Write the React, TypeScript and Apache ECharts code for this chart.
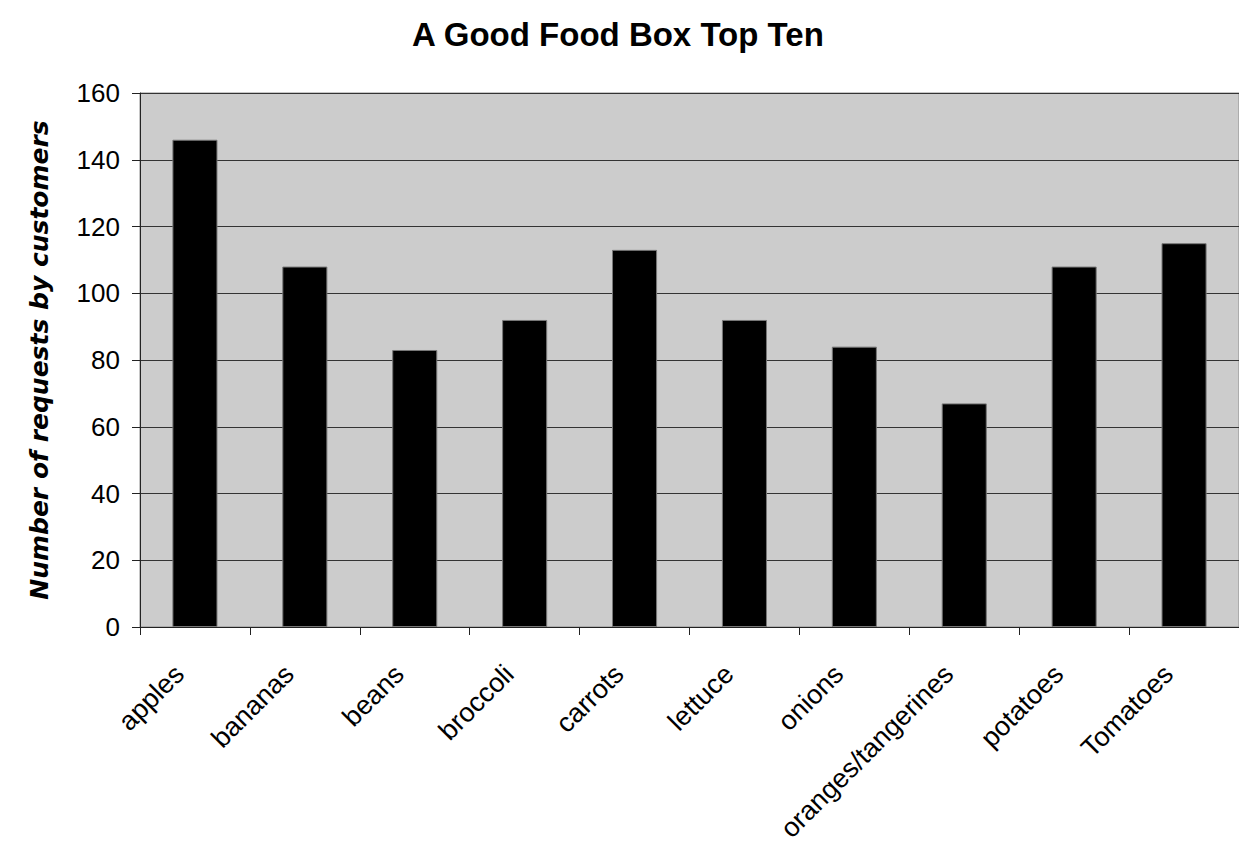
import React, { useEffect, useRef } from "react";
import * as echarts from "echarts";

const titleText = "A Good Food Box Top Ten";
const yAxisName = "Number of requests by customers";
const categories = [
  "apples",
  "bananas",
  "beans",
  "broccoli",
  "carrots",
  "lettuce",
  "onions",
  "oranges/tangerines",
  "potatoes",
  "Tomatoes",
];
const requests = [146, 108, 83, 92, 113, 92, 84, 67, 108, 115];
const yMin = 0;
const yMax = 160;
const yInterval = 20;

export default function App() {
  const ref = useRef<HTMLDivElement>(null);
  useEffect(() => {
    if (!ref.current) return;
    const chart = echarts.init(ref.current, undefined, { renderer: "svg" });
    chart.setOption({
      animation: false,
      backgroundColor: "#ffffff",
      title: {
        text: titleText,
        left: 407,
        top: 13,
        textStyle: {
          fontFamily: "Liberation Sans, Arial, sans-serif",
          fontWeight: "bold",
          fontSize: 33,
          color: "#000",
        },
      },
      grid: {
        left: 140,
        right: 0,
        top: 93,
        bottom: 221,
        show: true,
        backgroundColor: "#cccccc",
        borderColor: "#8c8c8c",
        borderWidth: 1,
        containLabel: false,
      },
      xAxis: {
        type: "category",
        data: categories,
        boundaryGap: true,
        axisLine: { show: true, lineStyle: { color: "#222", width: 1 } },
        axisTick: {
          show: true,
          alignWithLabel: false,
          length: 8,
          lineStyle: { color: "#222", width: 1 },
        },
        axisLabel: {
          rotate: 45,
          margin: 27,
          interval: 0,
          padding: [0, 22, 0, 0],
          fontFamily: "Liberation Sans, Arial, sans-serif",
          fontSize: 27,
          color: "#000",
        },
        splitLine: { show: false },
      },
      yAxis: {
        type: "value",
        min: yMin,
        max: yMax,
        interval: yInterval,
        name: yAxisName,
        nameLocation: "middle",
        nameGap: 88,
        nameRotate: 90,
        nameTextStyle: {
          fontFamily: "DejaVu Sans, sans-serif",
          fontStyle: "italic",
          fontWeight: "bold",
          fontSize: 25,
          color: "#000",
        },
        axisLine: { show: true, lineStyle: { color: "#222", width: 1 } },
        axisTick: { show: true, length: 8, lineStyle: { color: "#222", width: 1 } },
        axisLabel: {
          margin: 20,
          fontFamily: "Liberation Sans, Arial, sans-serif",
          fontSize: 26,
          color: "#000",
        },
        splitLine: { show: true, lineStyle: { color: "#333", width: 1 } },
      },
      series: [
        {
          type: "bar",
          data: requests,
          barWidth: "41%",
          itemStyle: { color: "#000000", borderColor: "#777", borderWidth: 1 },
        },
      ],
    });
    return () => chart.dispose();
  }, []);
  return (
    <div
      ref={ref}
      style={{ position: "fixed", left: 0, top: 0, width: 1239, height: 848 }}
    />
  );
}
